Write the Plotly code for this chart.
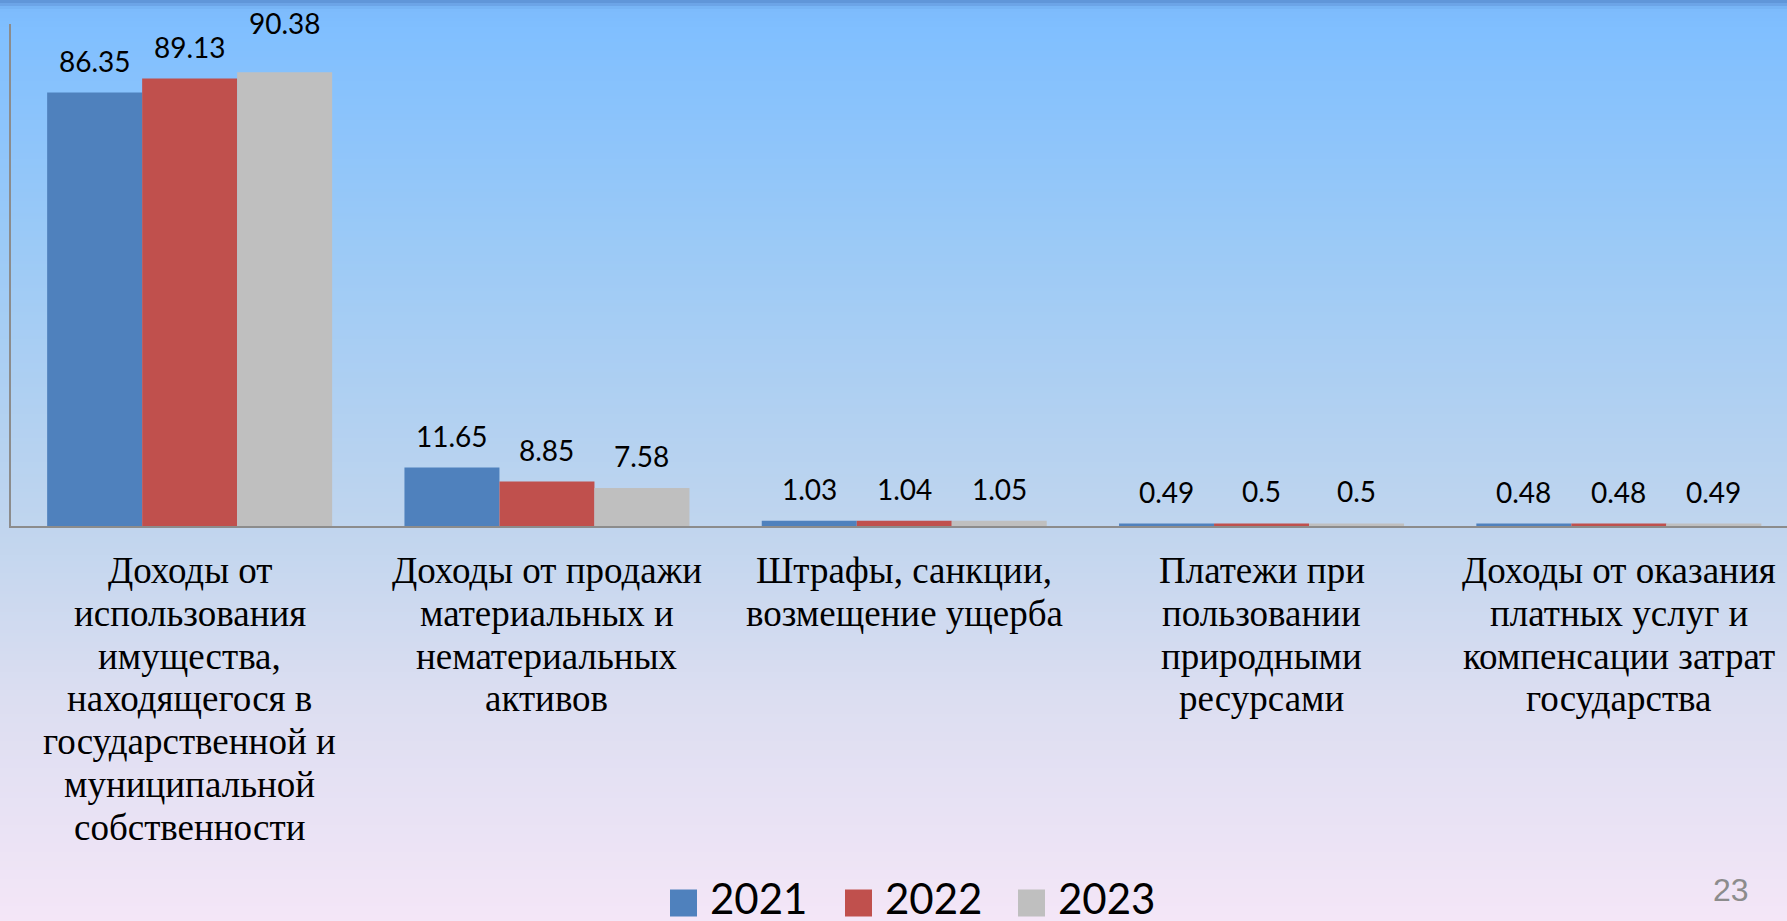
import plotly.graph_objects as go

# ---------------- data ----------------
categories = [
    "Доходы от<br>использования<br>имущества,<br>находящегося в<br>государственной и<br>муниципальной<br>собственности",
    "Доходы от продажи<br>материальных и<br>нематериальных<br>активов",
    "Штрафы, санкции,<br>возмещение ущерба",
    "Платежи при<br>пользовании<br>природными<br>ресурсами",
    "Доходы от оказания<br>платных услуг и<br>компенсации затрат<br>государства",
]
years = ["2021", "2022", "2023"]
values_2021 = [86.35, 11.65, 1.03, 0.49, 0.48]
values_2022 = [89.13, 8.85, 1.04, 0.5, 0.48]
values_2023 = [90.38, 7.58, 1.05, 0.5, 0.49]
value_labels_2021 = ["86.35", "11.65", "1.03", "0.49", "0.48"]
value_labels_2022 = ["89.13", "8.85", "1.04", "0.5", "0.48"]
value_labels_2023 = ["90.38", "7.58", "1.05", "0.5", "0.49"]
page_number = "23"

series = [
    (years[0], values_2021, value_labels_2021),
    (years[1], values_2022, value_labels_2022),
    (years[2], values_2023, value_labels_2023),
]
colors = ["#4F81BD", "#C0504D", "#BFBFBF"]

# ---------------- layout constants ----------------
W, H = 1787, 921
ML, MR, MT, MB = 11, 0, 24, 395
PW, PH = W - ML - MR, H - MT - MB
PX_PER_CAT = 357.3
BARGAP = 1 - 285.0 / PX_PER_CAT
X_RANGE = [-0.5, -0.5 + PW / PX_PER_CAT]
Y_RANGE = [0, 100]
CAT_FONT_SIZE = 37
CAT_LINE_H = 42.8
CAT_TOP_SHIFT = 22
LABEL_SHIFT = 13
# extra vertical nudge of individual value labels (series index, category index) -> px
LABEL_EXTRA_SHIFT = {(2, 0): 17}


def px_to_paper_x(px):
    return (px - ML) / PW


def px_to_paper_y(py):
    return (H - MB - py) / PH


fig = go.Figure()
for (name, vals, labs), col in zip(series, colors):
    fig.add_trace(go.Bar(
        x=list(range(len(categories))), y=vals, name=name,
        marker=dict(color=col, line=dict(width=0)),
        showlegend=False, hoverinfo="skip",
    ))

# value labels above bars
bar_w_px = (1 - BARGAP) / len(series) * PX_PER_CAT
annotations = []
for si, ((name, vals, labs), col) in enumerate(zip(series, colors)):
    offset = (si - (len(series) - 1) / 2) * bar_w_px
    for ci, (v, lab) in enumerate(zip(vals, labs)):
        annotations.append(dict(
            x=ci, y=v, xref="x", yref="y", text=lab, showarrow=False,
            xanchor="center", yanchor="bottom", xshift=offset,
            yshift=LABEL_SHIFT + LABEL_EXTRA_SHIFT.get((si, ci), 0),
            font=dict(family="Lato", size=28, color="#000000"),
        ))

# category labels (one text per line for slide-like line spacing)
for ci, cat in enumerate(categories):
    for li, line in enumerate(cat.split("<br>")):
        annotations.append(dict(
            x=ci, y=0, xref="x", yref="y", text=line, showarrow=False,
            xanchor="center", yanchor="top",
            yshift=-(CAT_TOP_SHIFT + li * CAT_LINE_H),
            font=dict(family="Liberation Serif", size=CAT_FONT_SIZE, color="#000000"),
        ))

# page number
annotations.append(dict(
    x=px_to_paper_x(1731), y=px_to_paper_y(890), xref="paper", yref="paper",
    text=page_number, showarrow=False, xanchor="center", yanchor="middle",
    font=dict(family="Liberation Sans", size=32, color="#8C8C8C"),
))

# background gradient (style)
shapes = []
stops = [
    (0, (0x5A, 0x8E, 0xD2)),
    (9, (0x7D, 0xBB, 0xFC)),
    (30, (0x80, 0xBF, 0xFF)),
    (250, (0x9C, 0xCA, 0xF6)),
    (526, (0xC0, 0xD5, 0xEE)),
    (700, (0xDC, 0xDE, 0xF1)),
    (921, (0xF4, 0xE6, 0xF7)),
]


def color_at(y):
    for (y0, c0), (y1, c1) in zip(stops[:-1], stops[1:]):
        if y0 <= y <= y1:
            t = (y - y0) / (y1 - y0) if y1 > y0 else 0
            return "rgb(%d,%d,%d)" % tuple(round(a + (b - a) * t) for a, b in zip(c0, c1))
    return "rgb(%d,%d,%d)" % stops[-1][1]


step = 3
for y in range(0, H, step):
    shapes.append(dict(
        type="rect", xref="paper", yref="paper", layer="below",
        x0=px_to_paper_x(0), x1=px_to_paper_x(W),
        y0=px_to_paper_y(min(y + step, H)), y1=px_to_paper_y(y),
        fillcolor=color_at(y + step / 2), line=dict(width=0),
    ))

# legend (squares + labels)
leg_sq = 27
leg_x0 = [670, 845, 1018]
leg_cy = 903
leg_text_cy = 898
for name, col, lx in zip(years, colors, leg_x0):
    shapes.append(dict(
        type="rect", xref="paper", yref="paper", layer="above",
        x0=px_to_paper_x(lx), x1=px_to_paper_x(lx + leg_sq),
        y0=px_to_paper_y(leg_cy + leg_sq / 2), y1=px_to_paper_y(leg_cy - leg_sq / 2),
        fillcolor=col, line=dict(width=0),
    ))
    annotations.append(dict(
        x=px_to_paper_x(lx + leg_sq + 11), y=px_to_paper_y(leg_text_cy), xref="paper", yref="paper",
        text=name, showarrow=False, xanchor="left", yanchor="middle",
        font=dict(family="Lato", size=42, color="#000000"),
    ))

fig.update_layout(
    width=W, height=H,
    margin=dict(l=ML, r=MR, t=MT, b=MB, pad=0),
    paper_bgcolor="#C0D5EE", plot_bgcolor="rgba(0,0,0,0)",
    barmode="group", bargap=BARGAP, bargroupgap=0,
    showlegend=False,
    shapes=shapes, annotations=annotations,
    xaxis=dict(
        range=X_RANGE, tickmode="array", tickvals=list(range(len(categories))),
        ticktext=[""] * len(categories), showline=True, linecolor="#8C8C8C", linewidth=2,
        showgrid=False, zeroline=False, ticks="", showticklabels=False,
        fixedrange=True,
    ),
    yaxis=dict(
        range=Y_RANGE, showline=True, linecolor="#8C8C8C", linewidth=2,
        showgrid=False, zeroline=False, showticklabels=False, ticks="",
        fixedrange=True,
    ),
)

fig.write_html(
    "out.html",
    config={"displayModeBar": False},
    post_script="document.body.style.margin='0px';document.body.style.overflow='hidden';",
)
